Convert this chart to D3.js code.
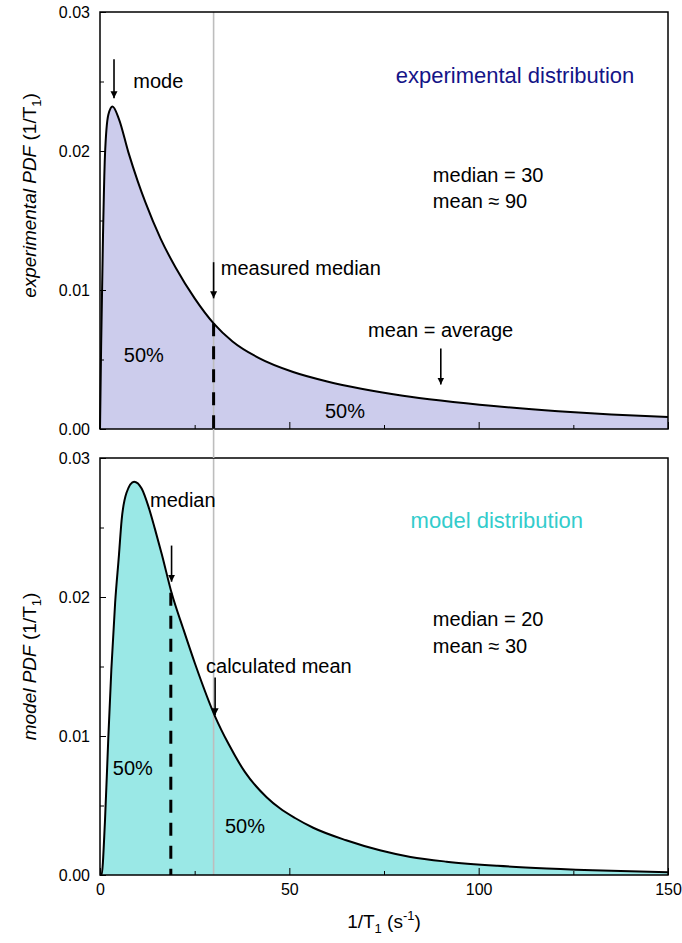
<!DOCTYPE html>
<html>
<head>
<meta charset="utf-8">
<script src="https://cdn.jsdelivr.net/npm/d3@7"></script>
<style>
  body { margin: 0; background: #fff; }
  svg text { font-family: "Liberation Sans", Arial, sans-serif; fill: #000; }
</style>
</head>
<body>
<div id="container"></div>
<script>
// ==================== data ==================== //

// experimental PDF (upper panel)
const expX = [0, 0.3, 0.8, 1.3, 2.2, 3.3, 5, 7.5, 10, 12, 16, 20, 25, 30, 35, 42, 51, 60, 69, 80, 90, 104, 121, 135, 150];
const expY = [0, 0.006, 0.014, 0.0196, 0.0226, 0.0232, 0.0223, 0.0199, 0.0178, 0.0163, 0.0137, 0.0116, 0.0094, 0.0076, 0.0063, 0.0051, 0.0041, 0.00342, 0.0029, 0.0024, 0.00205, 0.00165, 0.00128, 0.00105, 0.00086];

// model PDF (lower panel)
const modX = [0, 0.4, 1.3, 2.2, 3, 4, 5, 5.7, 7, 9, 11, 12.8, 14.5, 16.3, 18.9, 22, 25.1, 30.4, 34, 38.3, 44, 47.5, 51.5, 56.3, 65, 73.9, 82, 91.5, 105, 118, 135, 150];
const modY = [0, 0, 0.0038, 0.0099, 0.0148, 0.0196, 0.023, 0.0255, 0.0275, 0.0283, 0.0278, 0.0265, 0.0249, 0.0231, 0.0203, 0.0177, 0.0152, 0.0114, 0.0094, 0.0074, 0.0056, 0.0048, 0.0041, 0.0034, 0.0025, 0.00178, 0.0013, 0.00096, 0.00066, 0.00047, 0.0003, 0.0002];

const xMajorTicks = [0, 50, 100, 150];
const xMinorTicks = [25, 75, 125];
const yMajorTicks = [0, 0.01, 0.02, 0.03];
const yMinorTicks = [0.005, 0.015, 0.025];

const referenceX = 30; // grey line

// dashed median lines: [x, top value]
const expMedianLine = [30, 0.0076];
const modMedianLine = [18.7, 0.0203];

// arrows: [x, from value, to value]
const expArrows = [[3.7, 0.0266, 0.0238], [30, 0.0120, 0.0094], [90, 0.0058, 0.0032]];
const modArrows = [[18.9, 0.0237, 0.0211], [30.4, 0.0142, 0.0115]];

// labels: [text, x, value]
const expLabels = [["mode", 8.8, 0.0245], ["measured median", 31.9, 0.0111], ["mean = average", 70.8, 0.0066],
  ["50%", 6.3, 0.0048], ["50%", 59.4, 0.0008], ["median = 30", 87.9, 0.0178], ["mean \u2248 90", 87.9, 0.0159]];
const modLabels = [["median", 13.2, 0.0265], ["calculated mean", 28.0, 0.0145],
  ["50%", 3.4, 0.0072], ["50%", 33.0, 0.0030], ["median = 20", 87.9, 0.0179], ["mean \u2248 30", 87.9, 0.0160]];

// ==================== layout ==================== //

const width = 682, height = 943;
const left = 100, plotW = 568;
const panelH = 417;
const topY = 12, botY = 458;

const svg = d3.select("#container").append("svg")
  .attr("width", width).attr("height", height);

svg.append("defs").append("marker")
  .attr("id", "arrow")
  .attr("viewBox", "0 0 10 10")
  .attr("refX", 10).attr("refY", 5)
  .attr("markerWidth", 7).attr("markerHeight", 11)
  .attr("markerUnits", "userSpaceOnUse")
  .attr("orient", "auto")
  .append("path").attr("d", "M0,0 L10,5 L0,10 Z").attr("fill", "#000");

const x = d3.scaleLinear().domain([0, 150]).range([0, plotW]);

function drawPanel(offsetY, xs, ys, fillColor, medianLine, arrows, labels, title, titleColor, yLabel, showXLabels) {
  const y = d3.scaleLinear().domain([0, 0.03]).range([panelH, 0]);
  const g = svg.append("g").attr("transform", `translate(${left},${offsetY})`);
  const pts = xs.map((d, i) => [d, ys[i]]);

  g.append("path")
    .datum(pts)
    .attr("d", d3.area().x(d => x(d[0])).y0(y(0)).y1(d => y(d[1])).curve(d3.curveMonotoneX))
    .attr("fill", fillColor);

  // ticks pointing inward
  g.append("g").attr("transform", `translate(0,${panelH})`)
    .call(d3.axisBottom(x).tickValues(xMajorTicks).tickSize(-7).tickPadding(9)
      .tickFormat(showXLabels ? d3.format("d") : () => ""))
    .call(a => a.select(".domain").remove())
    .call(a => a.selectAll("text").style("font-size", "16px").attr("fill", "#000"));
  g.append("g").attr("transform", `translate(0,${panelH})`)
    .call(d3.axisBottom(x).tickValues(xMinorTicks).tickSize(-4).tickFormat(() => ""))
    .call(a => a.select(".domain").remove());
  g.append("g")
    .call(d3.axisLeft(y).tickValues(yMajorTicks).tickSize(-6).tickPadding(10).tickFormat(d3.format(".2f")))
    .call(a => a.select(".domain").remove())
    .call(a => a.selectAll("text").style("font-size", "16px").attr("fill", "#000"));
  g.append("g")
    .call(d3.axisLeft(y).tickValues(yMinorTicks).tickSize(-4).tickFormat(() => ""))
    .call(a => a.select(".domain").remove());

  // grey reference line (drawn per panel, bridged below)
  g.append("line")
    .attr("x1", x(referenceX)).attr("x2", x(referenceX))
    .attr("y1", 0).attr("y2", panelH)
    .attr("stroke", "#bdbdbd").attr("stroke-width", 1.6);

  g.append("path")
    .datum(pts)
    .attr("d", d3.line().x(d => x(d[0])).y(d => y(d[1])).curve(d3.curveMonotoneX))
    .attr("fill", "none").attr("stroke", "#000").attr("stroke-width", 2);

  g.append("line")
    .attr("x1", x(medianLine[0])).attr("x2", x(medianLine[0]))
    .attr("y1", y(medianLine[1])).attr("y2", y(0))
    .attr("stroke", "#000").attr("stroke-width", 3).attr("stroke-dasharray", "13,10");

  g.selectAll(".arrow").data(arrows).join("line")
    .attr("x1", d => x(d[0])).attr("x2", d => x(d[0]))
    .attr("y1", d => y(d[1])).attr("y2", d => y(d[2]))
    .attr("stroke", "#000").attr("stroke-width", 1.6)
    .attr("marker-end", "url(#arrow)");

  g.selectAll(".lbl").data(labels).join("text")
    .attr("x", d => x(d[1])).attr("y", d => y(d[2]))
    .style("font-size", "20px")
    .text(d => d[0]);

  g.append("text")
    .attr("x", x(title[1])).attr("y", y(title[2]))
    .attr("text-anchor", "middle")
    .style("font-size", "22px").style("fill", titleColor)
    .text(title[0]);

  const yl = g.append("text")
    .attr("transform", `translate(-64,${panelH / 2 + yLabel[1]}) rotate(-90)`)
    .attr("text-anchor", "middle")
    .style("font-size", "19px");
  yl.append("tspan").style("font-style", "italic").text(yLabel[0] + " PDF");
  yl.append("tspan").text(" (1/T");
  yl.append("tspan").attr("dy", 5).style("font-size", "13px").text("1");
  yl.append("tspan").attr("dy", -5).text(")");

  g.append("rect")
    .attr("width", plotW).attr("height", panelH)
    .attr("fill", "none").attr("stroke", "#000").attr("stroke-width", 1.5);

  return g;
}

drawPanel(topY, expX, expY, "#ccccec", expMedianLine, expArrows, expLabels,
  ["experimental distribution", 109.6, 0.0249], "#141487", ["experimental", -25], false);
const bottom = drawPanel(botY, modX, modY, "#9ae8e6", modMedianLine, modArrows, modLabels,
  ["model distribution", 104.8, 0.0250], "#33cccc", ["model", 0], true);

// grey line through the gap between panels
svg.append("line")
  .attr("x1", left + x(referenceX)).attr("x2", left + x(referenceX))
  .attr("y1", topY + panelH).attr("y2", botY)
  .attr("stroke", "#bdbdbd").attr("stroke-width", 1.6);

// x axis title
const xt = bottom.append("text")
  .attr("x", plotW / 2).attr("y", panelH + 53)
  .attr("text-anchor", "middle")
  .style("font-size", "19px");
xt.append("tspan").text("1/T");
xt.append("tspan").attr("dy", 5).style("font-size", "13px").text("1");
xt.append("tspan").attr("dy", -5).text(" (s");
xt.append("tspan").attr("dy", -8).style("font-size", "13px").text("-1");
xt.append("tspan").attr("dy", 8).text(")");
</script>
</body>
</html>
